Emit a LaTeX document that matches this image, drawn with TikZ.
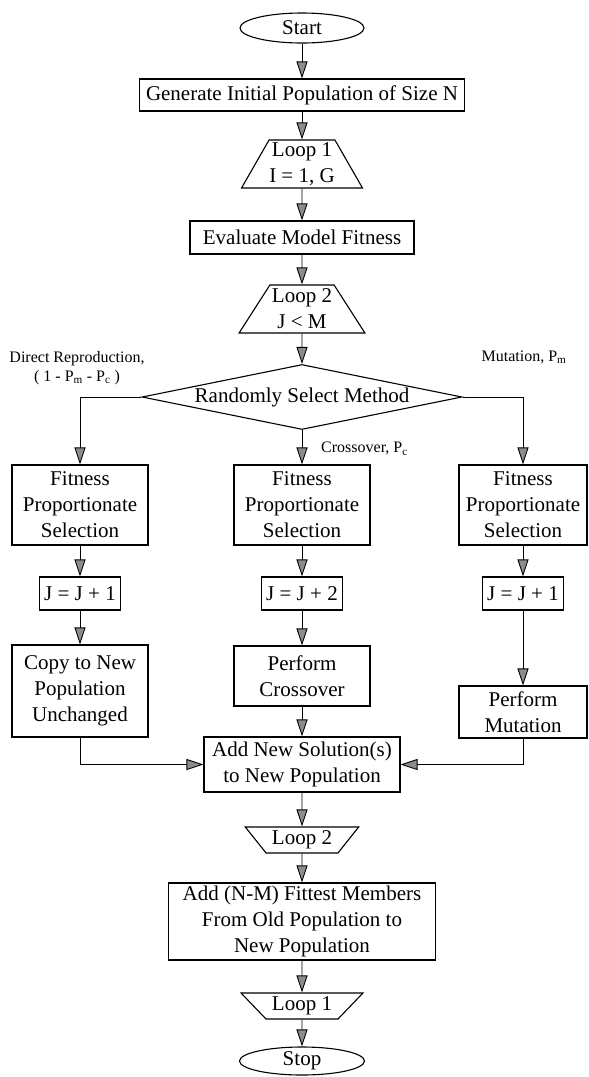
\documentclass[tikz,border=0pt]{standalone}
\usepackage{fontspec}
\setmainfont{Liberation Serif}
\usetikzlibrary{positioning, arrows.meta, shapes.geometric}

\begin{document}
\begin{tikzpicture}[x=1pt, y=-1pt, >={Triangle[length=17pt, width=11pt, fill=black!45]},
    every node/.style={font=\fontsize{21}{26}\selectfont},
    box/.style={draw, line width=1.1pt, rectangle, align=center, inner sep=0pt},
    terminal/.style={draw, line width=1.1pt, ellipse, inner sep=0pt},
    loopstart/.style={draw, line width=1.1pt, trapezium, trapezium stretches=true, align=center, inner sep=0pt},
    loopend/.style={loopstart, shape border rotate=180},
    decision/.style={draw, line width=1.1pt, diamond, aspect=4.9, inner sep=0pt},
    lbl/.style={font=\fontsize{16}{19}\selectfont, align=center, inner sep=0pt},
    flow/.style={->, line width=0.9pt}]
    \useasboundingbox (0,0) rectangle (589,1077);
    % Main column, top part
    \node[terminal, minimum width=124pt, minimum height=30pt] (start) at (302,28) {Start};
    \node[box, minimum width=325pt, minimum height=32pt] (init) at (302,95) {Generate Initial Population of Size N};
    \node[loopstart, minimum width=121pt, minimum height=48pt, trapezium angle=57.6] (loopa) at (302,164) {Loop 1\\I = 1, G};
    \node[box, minimum width=224pt, minimum height=33pt] (evalfit) at (302,237.5) {Evaluate Model Fitness};
    \node[loopstart, minimum width=126pt, minimum height=48pt, trapezium angle=54.3] (loopb) at (302,309) {Loop 2\\J < M};
    \node[decision, minimum width=320pt, minimum height=65pt] (select) at (302,397) {Randomly Select Method};
    % Branch probabilities
    \node[lbl] (lblD) at (77,368) {Direct Reproduction,\\( 1 - P\textsubscript{m} - P\textsubscript{c} )};
    \node[lbl] (lblM) at (524,357) {Mutation, P\textsubscript{m}};
    \node[lbl, anchor=west] (lblC) at (321,449) {Crossover, P\textsubscript{c}};
    % Three branches
    \node[box, minimum width=136pt, minimum height=80pt] (selD) at (80,505) {Fitness\\Proportionate\\Selection};
    \node[box, minimum width=136pt, minimum height=80pt] (selC) at (302,505) {Fitness\\Proportionate\\Selection};
    \node[box, minimum width=128pt, minimum height=80pt] (selM) at (523,505) {Fitness\\Proportionate\\Selection};
    \node[box, inner xsep=5pt, minimum height=33pt] (incD) at (80,593.5) {J = J + 1};
    \node[box, inner xsep=5pt, minimum height=33pt] (incC) at (302,593.5) {J = J + 2};
    \node[box, inner xsep=5pt, minimum height=33pt] (incM) at (523,593.5) {J = J + 1};
    \node[box, minimum width=136pt, minimum height=92pt] (copy) at (80,691) {Copy to New\\Population\\Unchanged};
    \node[box, minimum width=136pt, minimum height=60pt] (cross) at (302,676) {Perform\\Crossover};
    \node[box, minimum width=128pt, minimum height=52pt] (mutate) at (523,712) {Perform\\Mutation};
    % Main column, bottom part
    \node[box, minimum width=196pt, minimum height=55pt] (addnew) at (302,764.5) {Add New Solution(s)\\to New Population};
    \node[loopend, minimum width=114pt, minimum height=26pt, trapezium angle=46.7] (loopbend) at (302,840) {Loop 2};
    \node[box, minimum width=267pt, minimum height=77pt] (addfit) at (302,921.5) {Add (N-M) Fittest Members\\From Old Population to\\New Population};
    \node[loopend, minimum width=122pt, minimum height=26pt, trapezium angle=41.4] (loopaend) at (302,1006) {Loop 1};
    \node[terminal, minimum width=125pt, minimum height=28pt] (stop) at (302,1061) {Stop};
    % Connectors
    \draw[flow] (start) -- (init);
    \draw[flow] (init) -- (loopa);
    \draw[flow] (loopa) -- (evalfit);
    \draw[flow] (evalfit) -- (loopb);
    \draw[flow] (loopb) -- (select);
    \draw[flow] (select.west) -| (selD);
    \draw[flow] (select) -- (selC);
    \draw[flow] (select.east) -| (selM);
    \draw[flow] (selD) -- (incD);
    \draw[flow] (selC) -- (incC);
    \draw[flow] (selM) -- (incM);
    \draw[flow] (incD) -- (copy);
    \draw[flow] (incC) -- (cross);
    \draw[flow] (incM) -- (mutate);
    \draw[flow] (copy) |- (addnew);
    \draw[flow] (cross) -- (addnew);
    \draw[flow] (mutate) |- (addnew);
    \draw[flow] (addnew) -- (loopbend);
    \draw[flow] (loopbend) -- (addfit);
    \draw[flow] (addfit) -- (loopaend);
    \draw[flow] (loopaend) -- (stop);
\end{tikzpicture}
\end{document}
